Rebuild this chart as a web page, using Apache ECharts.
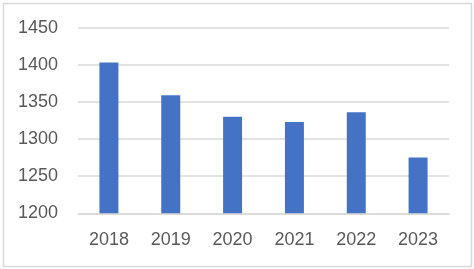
<!DOCTYPE html>
<html><head><meta charset="utf-8">
<script src="https://cdn.jsdelivr.net/npm/echarts@6/dist/echarts.min.js"></script>
<style>html,body{margin:0;padding:0;background:#fff}#c{width:474px;height:269px}</style>
</head><body><div id="c"></div>
<script>
const categories = ['2018','2019','2020','2021','2022','2023'];
const values = [1403, 1359, 1330, 1323, 1336, 1275];
const yMin = 1200, yMax = 1450, yStep = 50;

const chart = echarts.init(document.getElementById('c'), null, {renderer:'canvas'});
chart.setOption({
  animation:false,
  backgroundColor:'#fff',
  graphic:[{type:'rect', shape:{x:3.5,y:3.5,width:468,height:263}, style:{fill:'none', stroke:'#d9d9d9', lineWidth:1.5}, silent:true}],
  grid:{left:78, right:25, top:27.7, bottom:55.7, containLabel:false},
  xAxis:{type:'category', data:categories,
    axisLine:{show:true, lineStyle:{color:'#d9d9d9', width:1.5}},
    axisTick:{show:false},
    axisLabel:{color:'#595959', fontSize:18, fontFamily:'Liberation Sans', margin:18}},
  yAxis:{type:'value', min:yMin, max:yMax, interval:yStep,
    axisLine:{show:false}, axisTick:{show:false},
    splitLine:{lineStyle:{color:'#d9d9d9', width:1.5}},
    axisLabel:{color:'#595959', fontSize:18, fontFamily:'Liberation Sans', margin:20, formatter:v=>String(v)}},
  series:[{type:'bar', data:values, barWidth:19, itemStyle:{color:'#4472C4'}}]
});
</script></body></html>
